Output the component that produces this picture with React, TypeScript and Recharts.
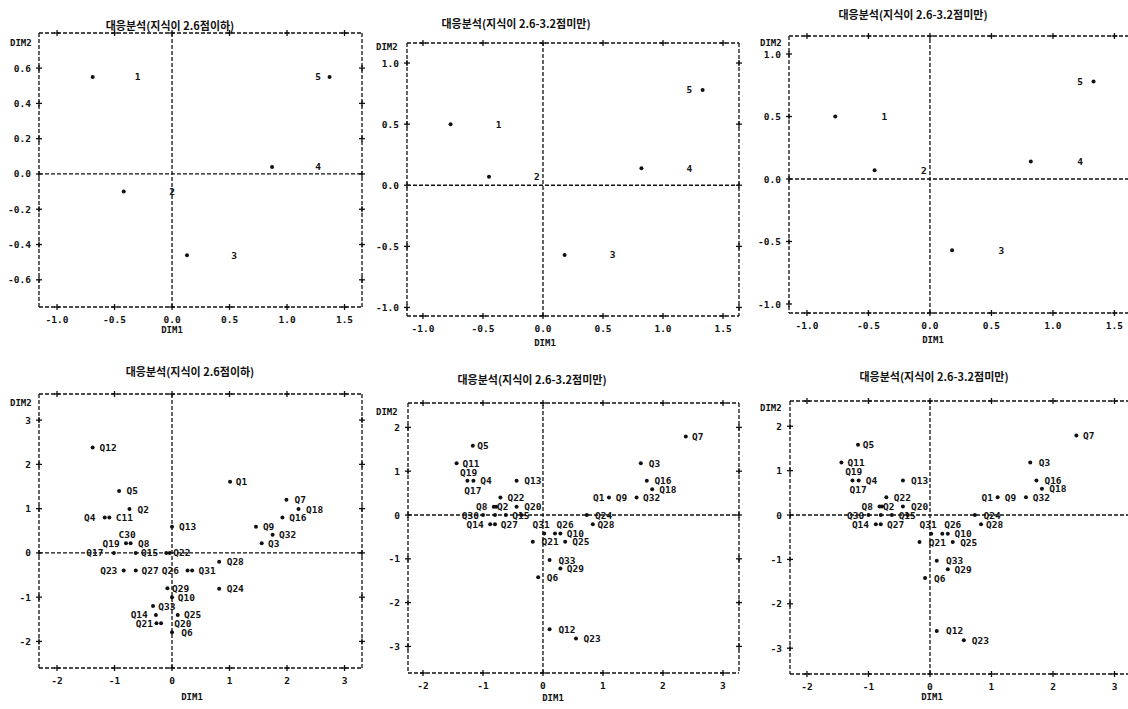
import { ScatterChart, Scatter, XAxis, YAxis, ReferenceLine } from "recharts";

const MONO = "'DejaVu Sans Mono', monospace";
const KR = "'Noto Sans CJK KR', sans-serif";
const INK = "#111";
const DASH = "4 2";

type Pt = { x: number; y: number };
type Lbl = { x: number; y: number; name: string };

// tick values
const topXTicks = [-1, -0.5, 0, 0.5, 1, 1.5];
const p1YTicks = [-0.6, -0.4, -0.2, 0, 0.2, 0.4, 0.6];
const p23YTicks = [-1, -0.5, 0, 0.5, 1];
const botXTicks = [-2, -1, 0, 1, 2, 3];
const p4YTicks = [-2, -1, 0, 1, 2, 3];
const p56YTicks = [-3, -2, -1, 0, 1, 2];

// top left: 2.6 or below
const p1Points: Pt[] = [
  { x: -0.69, y: 0.55 },
  { x: -0.42, y: -0.1 },
  { x: 0.13, y: -0.46 },
  { x: 0.87, y: 0.04 },
  { x: 1.37, y: 0.55 },
];
const p1Labels: Lbl[] = [
  { x: -0.3, y: 0.55, name: "1" },
  { x: 0.0, y: -0.1, name: "2" },
  { x: 0.54, y: -0.46, name: "3" },
  { x: 1.27, y: 0.04, name: "4" },
  { x: 1.27, y: 0.55, name: "5" },
];

// top middle / right: 2.6-3.2
const p23Points: Pt[] = [
  { x: -0.77, y: 0.5 },
  { x: -0.45, y: 0.07 },
  { x: 0.18, y: -0.57 },
  { x: 0.82, y: 0.14 },
  { x: 1.33, y: 0.78 },
];
const p23Labels: Lbl[] = [
  { x: -0.37, y: 0.5, name: "1" },
  { x: -0.05, y: 0.07, name: "2" },
  { x: 0.58, y: -0.57, name: "3" },
  { x: 1.22, y: 0.14, name: "4" },
  { x: 1.22, y: 0.78, name: "5" },
];

// bottom left: items, 2.6 or below
const p4Points: Pt[] = [
  { x: -1.38, y: 2.38 }, { x: -0.92, y: 1.4 }, { x: -0.74, y: 0.99 },
  { x: -1.17, y: 0.8 }, { x: -1.09, y: 0.8 }, { x: -0.8, y: 0.22 },
  { x: -0.72, y: 0.22 }, { x: -1.01, y: 0 }, { x: -0.63, y: 0 },
  { x: -0.1, y: 0 }, { x: -0.04, y: 0 }, { x: 0, y: 0.59 },
  { x: 1.01, y: 1.61 }, { x: 1.99, y: 1.2 }, { x: 2.2, y: 0.99 },
  { x: 1.92, y: 0.8 }, { x: 1.46, y: 0.59 }, { x: 1.75, y: 0.41 },
  { x: 1.56, y: 0.22 }, { x: 0.82, y: -0.2 }, { x: -0.84, y: -0.4 },
  { x: -0.63, y: -0.4 }, { x: 0.27, y: -0.4 }, { x: 0.35, y: -0.4 },
  { x: 0.82, y: -0.81 }, { x: -0.08, y: -0.8 }, { x: 0, y: -1.0 },
  { x: -0.33, y: -1.2 }, { x: -0.28, y: -1.4 }, { x: 0.1, y: -1.4 },
  { x: -0.27, y: -1.59 }, { x: -0.19, y: -1.59 }, { x: 0, y: -1.79 },
];
const p4Labels: Lbl[] = [
  { x: -1.11, y: 2.38, name: "Q12" },
  { x: -0.69, y: 1.4, name: "Q5" },
  { x: -0.5, y: 0.99, name: "Q2" },
  { x: -1.43, y: 0.8, name: "Q4" },
  { x: -0.83, y: 0.8, name: "C11" },
  { x: -0.78, y: 0.41, name: "C30" },
  { x: -1.06, y: 0.22, name: "Q19" },
  { x: -0.49, y: 0.22, name: "Q8" },
  { x: -1.34, y: 0, name: "Q17" },
  { x: -0.39, y: 0, name: "Q15" },
  { x: 0.17, y: 0, name: "Q22" },
  { x: 0.27, y: 0.59, name: "Q13" },
  { x: 1.21, y: 1.61, name: "Q1" },
  { x: 2.23, y: 1.2, name: "Q7" },
  { x: 2.48, y: 0.99, name: "Q18" },
  { x: 2.19, y: 0.8, name: "Q16" },
  { x: 1.68, y: 0.59, name: "Q9" },
  { x: 2.01, y: 0.41, name: "Q32" },
  { x: 1.77, y: 0.22, name: "Q3" },
  { x: 1.1, y: -0.2, name: "Q28" },
  { x: -1.1, y: -0.4, name: "Q23" },
  { x: -0.38, y: -0.4, name: "Q27" },
  { x: -0.03, y: -0.4, name: "Q26" },
  { x: 0.61, y: -0.4, name: "Q31" },
  { x: 0.15, y: -0.8, name: "Q29" },
  { x: 1.1, y: -0.81, name: "Q24" },
  { x: 0.25, y: -1.0, name: "Q10" },
  { x: -0.09, y: -1.2, name: "Q33" },
  { x: -0.57, y: -1.4, name: "Q14" },
  { x: 0.36, y: -1.4, name: "Q25" },
  { x: -0.48, y: -1.59, name: "Q21" },
  { x: 0.19, y: -1.59, name: "Q20" },
  { x: 0.26, y: -1.79, name: "Q6" },
];

// bottom middle / right: items, 2.6-3.2
const p56Points: Pt[] = [
  { x: 2.38, y: 1.79 }, { x: -1.17, y: 1.58 }, { x: -1.44, y: 1.18 },
  { x: 1.63, y: 1.18 }, { x: -1.26, y: 0.78 }, { x: -1.16, y: 0.78 },
  { x: -0.44, y: 0.78 }, { x: 1.73, y: 0.78 }, { x: 1.82, y: 0.59 },
  { x: -0.71, y: 0.4 }, { x: 1.1, y: 0.4 }, { x: 1.56, y: 0.4 },
  { x: -0.82, y: 0.19 }, { x: -0.78, y: 0.19 }, { x: -0.44, y: 0.19 },
  { x: -1.0, y: 0 }, { x: -0.8, y: 0 }, { x: -0.62, y: 0 },
  { x: -0.36, y: 0 }, { x: 0.73, y: 0 }, { x: -0.88, y: -0.21 },
  { x: -0.8, y: -0.21 }, { x: 0.83, y: -0.21 }, { x: 0.02, y: -0.42 },
  { x: 0.2, y: -0.42 }, { x: 0.29, y: -0.42 }, { x: -0.17, y: -0.61 },
  { x: 0.37, y: -0.61 }, { x: 0.11, y: -1.03 }, { x: 0.29, y: -1.22 },
  { x: -0.08, y: -1.42 }, { x: 0.11, y: -2.61 }, { x: 0.55, y: -2.82 },
];
const p56Labels: Lbl[] = [
  { x: 2.58, y: 1.79, name: "Q7" },
  { x: -1.0, y: 1.58, name: "Q5" },
  { x: -1.2, y: 1.18, name: "Q11" },
  { x: -1.24, y: 0.97, name: "Q19" },
  { x: -0.95, y: 0.78, name: "Q4" },
  { x: -1.17, y: 0.57, name: "Q17" },
  { x: -0.17, y: 0.78, name: "Q13" },
  { x: 1.86, y: 1.18, name: "Q3" },
  { x: 2.0, y: 0.78, name: "Q16" },
  { x: 2.08, y: 0.59, name: "Q18" },
  { x: -0.45, y: 0.4, name: "Q22" },
  { x: 0.93, y: 0.4, name: "Q1" },
  { x: 1.31, y: 0.4, name: "Q9" },
  { x: 1.81, y: 0.4, name: "Q32" },
  { x: -1.02, y: 0.19, name: "Q8" },
  { x: -0.67, y: 0.19, name: "Q2" },
  { x: -0.17, y: 0.19, name: "Q20" },
  { x: -1.21, y: 0, name: "Q30" },
  { x: -0.37, y: 0, name: "Q15" },
  { x: 1.01, y: 0, name: "Q24" },
  { x: -1.13, y: -0.21, name: "Q14" },
  { x: -0.56, y: -0.21, name: "Q27" },
  { x: 1.05, y: -0.21, name: "Q28" },
  { x: -0.03, y: -0.21, name: "Q31" },
  { x: 0.37, y: -0.21, name: "Q26" },
  { x: 0.54, y: -0.42, name: "Q10" },
  { x: 0.12, y: -0.61, name: "Q21" },
  { x: 0.63, y: -0.61, name: "Q25" },
  { x: 0.4, y: -1.03, name: "Q33" },
  { x: 0.54, y: -1.22, name: "Q29" },
  { x: 0.16, y: -1.42, name: "Q6" },
  { x: 0.4, y: -2.61, name: "Q12" },
  { x: 0.82, y: -2.82, name: "Q23" },
];

const TITLE_LOW = "대응분석(지식이 2.6점이하)";
const TITLE_MID = "대응분석(지식이 2.6-3.2점미만)";

function Cross({ x, y }: { x: number; y: number }) {
  return (
    <g stroke={INK} strokeWidth={1.3}>
      <line x1={x - 3} x2={x + 3} y1={y} y2={y} />
      <line x1={x} x2={x} y1={y - 3} y2={y + 3} />
    </g>
  );
}

const tickText = { fontFamily: MONO, fontSize: 9.5, fontWeight: 700, fill: INK };

type PanelProps = {
  box: [number, number, number, number];
  xDomain: [number, number];
  yDomain: [number, number];
  xTicks: number[];
  yTicks: number[];
  digits: number;
  points: Pt[];
  labels: Lbl[];
  title: string;
  titleAt: [number, number];
  dim1At: [number, number];
  dim2At: [number, number];
};

function Panel(p: PanelProps) {
  const [L, T, R, B] = p.box;
  const fmt = (v: number) => v.toFixed(p.digits);
  const line = { stroke: INK, strokeWidth: 1.3, strokeDasharray: DASH };
  const common = { type: "number" as const, allowDataOverflow: true, interval: 0 as const, tickLine: false, tickSize: 0, tickMargin: 0, axisLine: line };
  return (
    <>
      <div
        style={{
          position: "absolute",
          left: p.titleAt[0],
          top: p.titleAt[1],
          transform: "translate(-50%, -50%)",
          fontFamily: KR,
          fontWeight: 700,
          fontSize: 11,
          whiteSpace: "nowrap",
          color: INK,
        }}
      >
        {p.title}
      </div>
      <div style={{ position: "absolute", left: p.dim2At[0], top: p.dim2At[1], transform: "translateY(-50%)", fontFamily: MONO, fontWeight: 700, fontSize: 9, color: INK }}>
        DIM2
      </div>
      <div style={{ position: "absolute", left: p.dim1At[0], top: p.dim1At[1], transform: "translate(-50%, -50%)", fontFamily: MONO, fontWeight: 700, fontSize: 9, color: INK }}>
        DIM1
      </div>
      <div style={{ position: "absolute", left: L - 40, top: T - 30 }}>
        <ScatterChart width={R - L + 80} height={B - T + 70} margin={{ top: 0, right: 0, bottom: 0, left: 0 }}>
          <XAxis
            {...common}
            xAxisId="b"
            dataKey="x"
            orientation="bottom"
            height={40}
            domain={p.xDomain}
            ticks={p.xTicks}
            tick={(t: any) => (
              <g>
                <Cross x={t.x} y={t.y} />
                <text x={t.x} y={t.y + 16} textAnchor="middle" style={tickText}>
                  {fmt(t.payload.value)}
                </text>
              </g>
            )}
          />
          <XAxis
            {...common}
            xAxisId="t"
            dataKey="x"
            orientation="top"
            height={30}
            domain={p.xDomain}
            ticks={p.xTicks}
            tick={(t: any) => <Cross x={t.x} y={t.y} />}
          />
          <YAxis
            {...common}
            yAxisId="l"
            dataKey="y"
            orientation="left"
            width={40}
            domain={p.yDomain}
            ticks={p.yTicks}
            tick={(t: any) => (
              <g>
                <Cross x={t.x} y={t.y} />
                <text x={t.x - 8} y={t.y + 3.5} textAnchor="end" style={tickText}>
                  {fmt(t.payload.value)}
                </text>
              </g>
            )}
          />
          <YAxis
            {...common}
            yAxisId="r"
            dataKey="y"
            orientation="right"
            width={40}
            domain={p.yDomain}
            ticks={p.yTicks}
            tick={(t: any) => <Cross x={t.x} y={t.y} />}
          />
          <ReferenceLine xAxisId="b" yAxisId="l" x={0} stroke={INK} strokeWidth={1.3} strokeDasharray={DASH} />
          <ReferenceLine xAxisId="b" yAxisId="l" y={0} stroke={INK} strokeWidth={1.3} strokeDasharray={DASH} />
          <Scatter
            xAxisId="b"
            yAxisId="l"
            data={p.points}
            isAnimationActive={false}
            shape={(s: any) => <circle cx={s.cx} cy={s.cy} r={2} fill={INK} />}
          />
          <Scatter
            xAxisId="b"
            yAxisId="l"
            data={p.labels}
            isAnimationActive={false}
            shape={(s: any) => (
              <text
                x={s.cx}
                y={s.cy}
                dy={3.5}
                textAnchor="middle"
                fontFamily={MONO}
                fontWeight={700}
                fontSize={9.5}
                fill={INK}
              >
                {s.payload.name}
              </text>
            )}
          />
        </ScatterChart>
      </div>
    </>
  );
}

export default function App() {
  return (
    <div style={{ position: "fixed", left: 0, top: 0, width: 1128, height: 709, overflow: "hidden", background: "#fff" }}>
      <Panel
        box={[39, 33, 362, 307]}
        xDomain={[-1.157, 1.652]}
        yDomain={[-0.754, 0.799]}
        xTicks={topXTicks}
        yTicks={p1YTicks}
        digits={1}
        points={p1Points}
        labels={p1Labels}
        title={TITLE_LOW}
        titleAt={[170, 25]}
        dim1At={[172, 330]}
        dim2At={[10, 43]}
      />
      <Panel
        box={[407, 43, 739, 316]}
        xDomain={[-1.133, 1.633]}
        yDomain={[-1.07, 1.164]}
        xTicks={topXTicks}
        yTicks={p23YTicks}
        digits={1}
        points={p23Points}
        labels={p23Labels}
        title={TITLE_MID}
        titleAt={[516, 23]}
        dim1At={[545, 343]}
        dim2At={[376, 47]}
      />
      <Panel
        box={[789, 36, 1134, 313]}
        xDomain={[-1.146, 1.659]}
        yDomain={[-1.072, 1.144]}
        xTicks={topXTicks}
        yTicks={p23YTicks}
        digits={1}
        points={p23Points}
        labels={p23Labels}
        title={TITLE_MID}
        titleAt={[913, 14]}
        dim1At={[933, 340]}
        dim2At={[760, 43]}
      />
      <Panel
        box={[39, 394, 362, 668]}
        xDomain={[-2.313, 3.304]}
        yDomain={[-2.6, 3.59]}
        xTicks={botXTicks}
        yTicks={p4YTicks}
        digits={0}
        points={p4Points}
        labels={p4Labels}
        title={TITLE_LOW}
        titleAt={[190, 371]}
        dim1At={[192, 697]}
        dim2At={[10, 403]}
      />
      <Panel
        box={[408, 403, 739, 673]}
        xDomain={[-2.25, 3.267]}
        yDomain={[-3.607, 2.557]}
        xTicks={botXTicks}
        yTicks={p56YTicks}
        digits={0}
        points={p56Points}
        labels={p56Labels}
        title={TITLE_MID}
        titleAt={[532, 379]}
        dim1At={[553, 698]}
        dim2At={[376, 412]}
      />
      <Panel
        box={[790, 401, 1134, 674]}
        xDomain={[-2.276, 3.317]}
        yDomain={[-3.581, 2.568]}
        xTicks={botXTicks}
        yTicks={p56YTicks}
        digits={0}
        points={p56Points}
        labels={p56Labels}
        title={TITLE_MID}
        titleAt={[934, 376]}
        dim1At={[932, 697]}
        dim2At={[760, 408]}
      />
    </div>
  );
}
